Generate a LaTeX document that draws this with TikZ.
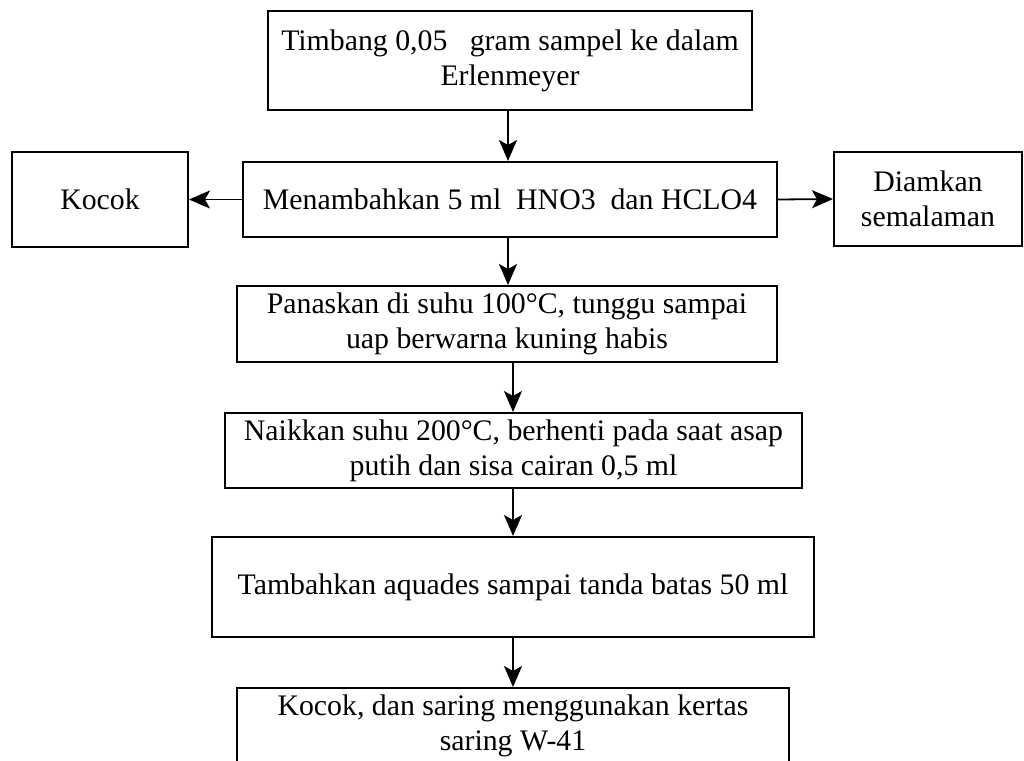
\documentclass[tikz,border=0pt]{standalone}
\usepackage{fontspec}
\setmainfont{Liberation Serif}
\usepackage{tikz}
\usetikzlibrary{arrows.meta}

\begin{document}
\begin{tikzpicture}[x=1pt, y=-1pt,
		box/.style={draw, line width=2pt, align=center, inner sep=0pt,
			font=\fontsize{29.8}{35}\selectfont},
		arr/.style={line width=1.8pt, -{Stealth[length=21pt, width=18pt, inset=5pt]}}]
			\useasboundingbox (0, 0) rectangle (1024, 760);
			\node[box, minimum width=484, minimum height=99] (timbang) at (510, 60.5) {Timbang 0,05 \ \ gram sampel ke dalam\\Erlenmeyer};
			\node[box, minimum width=534, minimum height=75] (tambahasam) at (510, 199.5) {Menambahkan 5 ml \ HNO3 \ dan HCLO4};
			\node[box, minimum width=176, minimum height=95] (kocok) at (100, 199.5) {Kocok};
			\node[box, minimum width=188, minimum height=94] (diamkan) at (928, 199) {Diamkan\\semalaman};
			\node[box, minimum width=540, minimum height=76] (panaskan) at (507, 324) {Panaskan di suhu 100°C, tunggu sampai\\uap berwarna kuning habis};
			\node[box, minimum width=577, minimum height=75] (naikkan) at (513.5, 450.5) {Naikkan suhu 200°C, berhenti pada saat asap\\putih dan sisa cairan 0,5 ml};
			\node[box, minimum width=602, minimum height=100] (aquades) at (513, 587) {Tambahkan aquades sampai tanda batas 50 ml};
			\node[box, minimum width=552, minimum height=84] (saring) at (513, 730) {};
			\node[box, draw=none] (saringtxt) at (513, 726) {Kocok, dan saring menggunakan kertas\\saring W-41};
			\coordinate (p) at (508, 0);
			\coordinate (q) at (513, 0);
			\draw[arr] (p |- timbang.south) -- (p |- tambahasam.north);
			\draw[arr] (tambahasam.west) -- (kocok.east);
			\draw[arr] (tambahasam.east) -- (diamkan.west);
			\draw[arr] (p |- tambahasam.south) -- (p |- panaskan.north);
			\draw[arr] (q |- panaskan.south) -- (q |- naikkan.north);
			\draw[arr] (q |- naikkan.south) -- (q |- aquades.north);
			\draw[arr] (q |- aquades.south) -- (q |- saring.north);
		\end{tikzpicture}
\end{document}
